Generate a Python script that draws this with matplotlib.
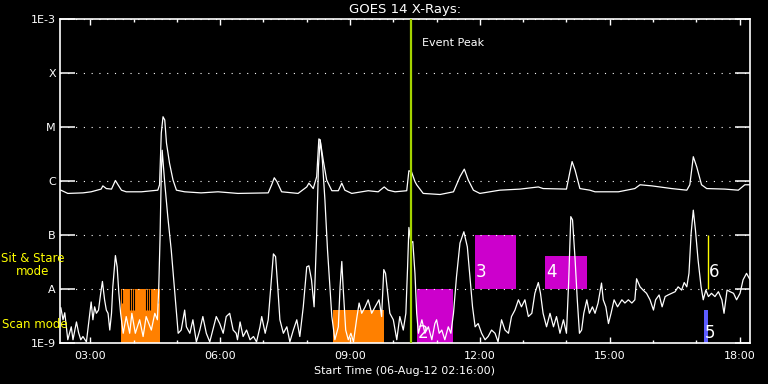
"""GOES 14 X-ray light curve with IRIS observing modes (06-Aug-12)"""
import matplotlib.pyplot as plt
import numpy as np

# long channel (1-8 A): time in hours, log10 flux
long_t = [2.32, 2.48, 2.83, 3.02, 3.25, 3.29, 3.37, 3.49, 3.58, 3.64, 3.72, 3.83,
          4.18, 4.56, 4.60, 4.64, 4.68, 4.72, 4.76, 4.83, 4.91, 4.99, 5.18, 5.56,
          5.95, 6.41, 7.11, 7.19, 7.25, 7.31, 7.42, 7.80, 8.00, 8.05, 8.15, 8.23,
          8.28, 8.31, 8.38, 8.46, 8.58, 8.73, 8.81, 8.88, 9.04, 9.42, 9.65, 9.79,
          9.88, 10.04, 10.31, 10.36, 10.42, 10.50, 10.54, 10.69, 11.08, 11.39, 11.54,
          11.64, 11.73, 11.85, 12.00, 12.46, 12.93, 13.35, 13.46, 14.00, 14.08, 14.13,
          14.20, 14.31, 14.54, 14.66, 15.20, 15.58, 15.70, 15.97, 16.43, 16.78, 16.85,
          16.93, 17.01, 17.12, 17.24, 17.66, 17.97, 18.12, 18.24]
long_lf = [-6.17, -6.23, -6.22, -6.20, -6.15, -6.09, -6.14, -6.15, -5.99, -6.07, -6.17, -6.20,
           -6.20, -6.17, -6.07, -5.11, -4.81, -4.87, -5.30, -5.67, -5.98, -6.17, -6.20, -6.22,
           -6.20, -6.23, -6.22, -6.07, -5.94, -6.01, -6.20, -6.23, -6.11, -6.04, -6.14, -5.92,
           -5.22, -5.24, -5.61, -5.98, -6.18, -6.18, -6.04, -6.17, -6.23, -6.18, -6.20, -6.11,
           -6.17, -6.20, -6.18, -5.81, -5.83, -6.01, -6.07, -6.23, -6.25, -6.20, -5.92,
           -5.78, -5.98, -6.17, -6.23, -6.17, -6.15, -6.11, -6.14, -6.15, -5.83, -5.64,
           -5.80, -6.14, -6.17, -6.20, -6.20, -6.14, -6.07, -6.09, -6.14, -6.17, -6.07,
           -5.55, -5.74, -6.07, -6.14, -6.15, -6.17, -6.07, -6.07]

# short channel (0.5-4 A): time in hours, log10 flux
short_t = [2.32, 2.37, 2.41, 2.48, 2.56, 2.60, 2.68, 2.73, 2.78, 2.83, 2.91, 2.99,
           3.02, 3.06, 3.10, 3.14, 3.19, 3.24, 3.28, 3.33, 3.37, 3.41, 3.45, 3.49,
           3.52, 3.58, 3.62, 3.66, 3.70, 3.76, 3.83, 3.91, 3.96, 4.04, 4.14, 4.22,
           4.29, 4.41, 4.49, 4.55, 4.58, 4.61, 4.64, 4.66, 4.72, 4.79, 4.87, 4.95,
           4.99, 5.03, 5.10, 5.18, 5.22, 5.30, 5.37, 5.45, 5.53, 5.60, 5.68, 5.76,
           5.83, 5.91, 5.99, 6.07, 6.14, 6.22, 6.30, 6.37, 6.40, 6.46, 6.53, 6.61,
           6.69, 6.77, 6.84, 6.92, 6.96, 7.04, 7.11, 7.17, 7.23, 7.28, 7.33, 7.38,
           7.46, 7.54, 7.61, 7.69, 7.77, 7.84, 7.92, 8.00, 8.05, 8.11, 8.17, 8.23,
           8.27, 8.31, 8.36, 8.42, 8.48, 8.58, 8.65, 8.73, 8.77, 8.81, 8.84, 8.90,
           8.96, 9.02, 9.08, 9.15, 9.21, 9.27, 9.35, 9.42, 9.50, 9.58, 9.67, 9.73,
           9.78, 9.82, 9.87, 9.92, 10.00, 10.08, 10.15, 10.23, 10.29, 10.33, 10.36, 10.41,
           10.45, 10.50, 10.54, 10.58, 10.66, 10.73, 10.81, 10.89, 10.96, 11.00, 11.06, 11.12,
           11.19, 11.27, 11.33, 11.39, 11.46, 11.54, 11.63, 11.71, 11.77, 11.83, 11.89, 11.96,
           12.04, 12.12, 12.19, 12.27, 12.35, 12.42, 12.50, 12.58, 12.66, 12.73, 12.81, 12.89,
           12.96, 13.04, 13.12, 13.20, 13.27, 13.35, 13.40, 13.46, 13.54, 13.62, 13.70, 13.77,
           13.85, 13.93, 14.00, 14.05, 14.10, 14.14, 14.20, 14.25, 14.30, 14.35, 14.40, 14.47,
           14.53, 14.60, 14.66, 14.73, 14.81, 14.85, 14.91, 14.97, 15.03, 15.10, 15.18, 15.28,
           15.35, 15.43, 15.51, 15.58, 15.62, 15.70, 15.77, 15.85, 15.93, 16.01, 16.06, 16.14,
           16.21, 16.28, 16.35, 16.43, 16.51, 16.58, 16.66, 16.72, 16.78, 16.83, 16.88, 16.93,
           16.98, 17.04, 17.11, 17.16, 17.22, 17.28, 17.35, 17.43, 17.51, 17.59, 17.64, 17.71,
           17.78, 17.86, 17.93, 18.01, 18.08, 18.16, 18.24]
short_lf = [-8.35, -8.57, -8.44, -8.94, -8.70, -8.94, -8.61, -8.81, -8.94, -8.88, -8.98, -8.45,
            -8.24, -8.57, -8.33, -8.45, -8.39, -8.08, -7.86, -8.20, -8.39, -8.45, -8.76, -8.45,
            -7.96, -7.38, -7.59, -8.08, -8.45, -8.82, -8.51, -8.82, -8.45, -8.82, -8.57, -8.88,
            -8.51, -8.76, -8.45, -8.57, -8.02, -7.09, -5.86, -5.43, -6.04, -6.66, -7.28, -8.05,
            -8.45, -8.82, -8.76, -8.39, -8.70, -8.82, -8.57, -8.98, -8.76, -8.51, -8.82, -8.98,
            -8.76, -8.51, -8.64, -8.82, -8.51, -8.45, -8.76, -8.82, -8.94, -8.61, -8.88, -8.76,
            -8.94, -8.88, -8.98, -8.70, -8.51, -8.82, -8.57, -7.96, -7.35, -7.40, -7.96, -8.57,
            -8.82, -8.70, -8.98, -8.76, -8.57, -8.88, -8.33, -7.59, -7.57, -7.83, -8.33, -6.97,
            -5.74, -5.24, -5.61, -6.35, -7.28, -8.51, -8.94, -8.70, -7.96, -7.49, -7.96, -8.76,
            -8.94, -8.82, -8.98, -8.57, -8.26, -8.45, -8.33, -8.20, -8.45, -8.33, -8.20, -8.51,
            -7.64, -7.71, -8.08, -8.45, -8.57, -8.94, -8.51, -8.76, -8.45, -7.59, -6.86, -7.15,
            -7.12, -7.71, -8.45, -8.82, -8.57, -8.82, -8.70, -8.94, -8.64, -8.57, -8.82, -8.76,
            -8.94, -8.70, -8.82, -8.45, -7.77, -7.15, -6.94, -7.22, -7.77, -8.33, -8.70, -8.64,
            -8.82, -8.94, -8.88, -8.76, -8.82, -8.98, -8.57, -8.76, -8.82, -8.51, -8.39, -8.20,
            -8.33, -8.20, -8.51, -8.45, -8.08, -7.88, -8.08, -8.45, -8.70, -8.45, -8.70, -8.51,
            -8.82, -8.57, -8.82, -7.89, -6.66, -6.72, -7.46, -8.20, -8.82, -8.76, -8.45, -8.20,
            -8.45, -8.33, -8.45, -8.26, -7.89, -8.20, -8.33, -8.64, -8.45, -8.20, -8.33, -8.20,
            -8.26, -8.20, -8.26, -8.20, -7.81, -7.96, -8.02, -8.08, -8.20, -8.39, -8.20, -8.11,
            -8.33, -8.14, -8.11, -8.08, -8.05, -7.96, -8.02, -7.88, -7.96, -7.71, -6.97, -6.54,
            -6.91, -7.46, -7.96, -8.20, -8.02, -8.14, -8.08, -8.14, -8.05, -8.20, -8.45, -8.02,
            -8.05, -8.08, -8.20, -8.08, -7.83, -7.71, -7.83]

# scan mode observations (orange)
scan_start = [3.71, 8.61]
scan_end = [4.60, 9.78]
scan_top = [1e-8, 4.1e-9]
# short breaks between scans inside the first scan block
scan_gaps = [3.74, 3.92, 3.97, 4.02, 4.29, 4.34, 4.39, 4.56]
gap_low = [5.5e-9, 4.1e-9, 4.1e-9, 4.1e-9, 4.1e-9, 4.1e-9, 4.1e-9, 5.5e-9]

# sit & stare observations (magenta)
sit_start = [10.55, 11.89, 13.50]
sit_end = [11.39, 12.83, 14.47]
sit_bottom = [1e-9, 1e-8, 1e-8]
sit_top = [1e-8, 1e-7, 4.1e-8]

# other observations: 5 (blue box) and 6 (yellow line)
obs5 = (17.18, 17.27, 1e-9, 4.1e-9)
obs6 = (17.27, 1e-8, 1e-7)

box_labels = ["2", "3", "4", "5", "6"]
label_t = [10.57, 11.91, 13.53, 17.20, 17.29]
label_lf = [-8.81, -7.69, -7.69, -8.81, -7.69]

event_peak = 10.41

level_vals = [1e-9, 1e-8, 1e-7, 1e-6, 1e-5, 1e-4, 1e-3]
level_names = ["1E-9", "A", "B", "C", "M", "X", "1E-3"]
hour_ticks = [3, 6, 9, 12, 15, 18]
hour_labels = ["03:00", "06:00", "09:00", "12:00", "15:00", "18:00"]


def main():
    plt.rcParams["font.family"] = "DejaVu Sans"
    fig = plt.figure(figsize=(7.68, 3.84), dpi=100, facecolor="black")
    ax = fig.add_axes([60 / 768, 41 / 384, 690 / 768, 324 / 384], facecolor="black")

    ax.set_yscale("log")
    ax.set_ylim(1e-9, 1e-3)
    ax.set_xlim(2.30, 18.24)

    # observation boxes
    s0 = np.array(scan_start)
    ax.bar(s0, np.array(scan_top) - 1e-9, width=np.array(scan_end) - s0,
           bottom=1e-9, align="edge", color="#ff8000", linewidth=0, zorder=1)
    ax.vlines(scan_gaps, gap_low, 1e-8, color="black", lw=0.8, zorder=2)
    t0 = np.array(sit_start)
    ax.bar(t0, np.array(sit_top) - np.array(sit_bottom), width=np.array(sit_end) - t0,
           bottom=sit_bottom, align="edge", color="#cc00cc", linewidth=0, zorder=1)
    ax.bar(obs5[0], obs5[3] - obs5[2], width=obs5[1] - obs5[0], bottom=obs5[2],
           align="edge", color="#5c5cff", linewidth=0, zorder=1)
    ax.vlines(obs6[0], obs6[1], obs6[2], color="#ffff00", lw=1, zorder=1)

    # light curves
    ax.plot(long_t, 10.0 ** np.array(long_lf), color="white", lw=0.9, zorder=3)
    ax.plot(short_t, 10.0 ** np.array(short_lf), color="white", lw=0.9, zorder=3)

    for lab, t, lf in zip(box_labels, label_t, label_lf):
        ax.text(t, 10.0 ** lf, lab, color="white", fontsize=12, ha="left",
                va="center", zorder=4)

    # event peak
    ax.axvline(event_peak, color="#a4d400", lw=1.6, zorder=5)
    ax.annotate("Event Peak", xy=(event_peak, 0.926), xycoords=("data", "axes fraction"),
                xytext=(8, 0), textcoords="offset points", color="white",
                fontsize=8, va="center", ha="left")

    # axes styling
    for sp in ax.spines.values():
        sp.set_color("white")
        sp.set_linewidth(1.2)
    ax.set_yticks(level_vals)
    ax.set_yticklabels(level_names)
    ax.yaxis.set_minor_locator(plt.NullLocator())
    ax.tick_params(axis="y", which="major", direction="in", length=10.5, width=1.1,
                   color="white", labelcolor="white", labelsize=8, left=True,
                   right=True, pad=3)
    ax.set_xticks(hour_ticks)
    ax.set_xticklabels(hour_labels)
    ax.set_xticks(np.arange(3, 19), minor=True)
    ax.tick_params(axis="x", which="major", direction="in", length=4, width=1,
                   color="white", labelcolor="white", labelsize=8, top=True,
                   bottom=True, pad=6)
    ax.tick_params(axis="x", which="minor", direction="in", length=2.5, width=1,
                   color="white", top=True, bottom=True)
    ax.grid(axis="y", which="major", color="white", linestyle=(0, (1, 6)), lw=0.8)

    ax.set_title("GOES 14 X-Rays:", color="white", fontsize=9.5, pad=4)
    ax.set_xlabel("Start Time (06-Aug-12 02:16:00)", color="white", fontsize=8,
                  labelpad=3)

    fig.text(33 / 768, 1 - 265 / 384, "Sit & Stare\nmode", color="#ffff00",
             fontsize=8.5, ha="center", va="center", linespacing=1.0)
    fig.text(2 / 768, 1 - 324 / 384, "Scan mode", color="#ffff00", fontsize=8.5,
             ha="left", va="center")

    fig.savefig("out.png", dpi=100, facecolor="black")


if __name__ == "__main__":
    main()
